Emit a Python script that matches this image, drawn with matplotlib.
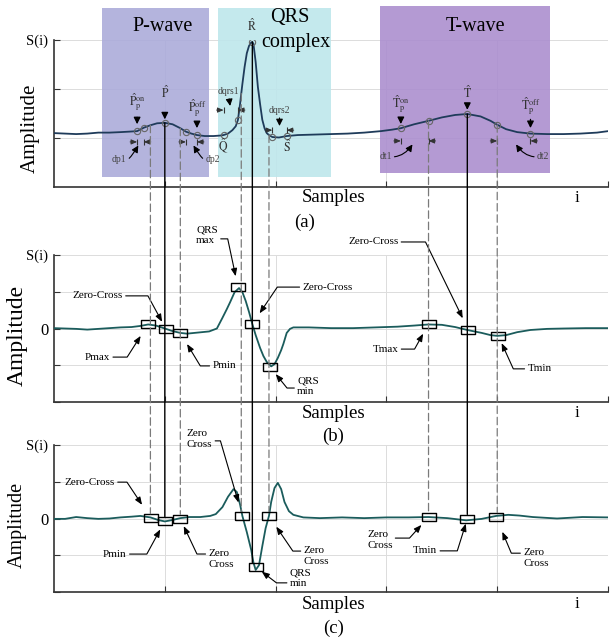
import numpy as np
import matplotlib
matplotlib.use("Agg")
import matplotlib.pyplot as plt
from matplotlib.patches import Rectangle, ConnectionPatch

plt.rcParams["font.family"] = ["Liberation Serif", "DejaVu Serif"]
plt.rcParams["mathtext.fontset"] = "stix"

# (a) one ECG beat, amplitude in grid units
ecg_i = [0, 10, 20, 30, 40, 50, 60, 68, 75, 81, 87, 93, 100, 107, 114, 119, 124, 129,
         136, 144, 150, 153, 157, 161, 164, 166, 168, 169, 170, 172, 174, 176, 178, 179,
         180, 182, 184, 186, 188, 190, 192, 194, 197, 203, 210, 220, 235, 250, 265, 280,
         295, 305, 313, 325, 338, 350, 362, 373, 385, 394, 400, 408, 418, 430, 445, 460,
         475, 490, 500]
ecg_v = [1.10, 1.09, 1.08, 1.09, 1.11, 1.11, 1.12, 1.13, 1.14, 1.21, 1.26, 1.30, 1.31,
         1.28, 1.20, 1.13, 1.09, 1.06, 1.04, 1.04, 1.05, 1.06, 1.09, 1.16, 1.24, 1.37,
         1.71, 1.91, 2.10, 2.45, 2.73, 2.88, 2.95, 2.96, 2.92, 2.55, 2.04, 1.69, 1.37,
         1.20, 1.10, 1.06, 1.02, 1.01, 1.04, 1.06, 1.07, 1.08, 1.09, 1.11, 1.14, 1.17,
         1.20, 1.28, 1.35, 1.42, 1.47, 1.49, 1.44, 1.35, 1.27, 1.18, 1.12, 1.09, 1.08,
         1.08, 1.09, 1.11, 1.14]
# fiducial circles on the beat
ecg_pts = [75, 81, 100, 119, 129, 153, 166, 179, 197, 210, 313, 338, 373, 400, 430]
# measured durations (start, end sample, level)
spans = [(75, 81, 0.92), (119, 129, 0.92), (153, 166, 1.57),
         (197, 210, 1.16), (313, 338, 0.94), (400, 430, 0.94)]
span_names = ["dp1", "dp2", "dqrs1", "dqrs2", "dt1", "dt2"]

# (b) first derivative
d1_i = [0, 10, 20, 30, 40, 50, 60, 70, 78, 85, 92, 100, 107, 114, 120, 130, 140, 147,
        152, 156, 159, 163, 167, 170, 173, 176, 179, 182, 186, 189, 192, 196, 199, 202,
        205, 207, 210, 213, 216, 230, 250, 270, 290, 310, 325, 338, 350, 362, 373, 386,
        394, 400, 408, 418, 430, 445, 460, 480, 500]
d1_v = [0.01, 0.0, -0.01, -0.03, -0.01, 0.01, 0.03, 0.04, 0.07, 0.11, 0.08, 0.0, -0.07,
        -0.12, -0.14, -0.11, -0.08, 0.0, 0.29, 0.53, 0.72, 0.99, 1.10, 0.99, 0.75, 0.45,
        0.12, -0.18, -0.53, -0.75, -0.91, -1.03, -0.97, -0.80, -0.59, -0.42, -0.12,
        -0.01, 0.03, 0.03, 0.01, 0.01, 0.03, 0.05, 0.08, 0.11, 0.10, 0.04, -0.04, -0.12,
        -0.18, -0.20, -0.18, -0.10, -0.04, -0.01, 0.0, 0.01, 0.01]
d1_mark_i = [85, 101, 114, 166, 179, 195, 338, 374, 401]
d1_mark_v = [0.12, -0.01, -0.12, 1.13, 0.12, -1.05, 0.12, -0.04, -0.20]
d1_names = ["Pmax", "Zero-Cross", "Pmin", "QRS\nmax", "Zero-Cross", "QRS\nmin",
            "Tmax", "Zero-Cross", "Tmin"]

# (c) second derivative
d2_i = [0, 10, 20, 30, 40, 50, 60, 70, 78, 87, 94, 100, 107, 114, 122, 132, 141, 146,
        152, 157, 162, 165, 168, 170, 174, 178, 180, 182, 185, 188, 191, 194, 196, 199,
        202, 205, 208, 212, 216, 225, 240, 260, 280, 300, 320, 338, 355, 372, 386, 399,
        410, 420, 432, 454, 477, 500]
d2_v = [-0.01, -0.01, 0.04, 0.01, -0.01, 0.0, 0.03, 0.05, 0.07, 0.03, -0.04, -0.08,
        -0.04, 0.01, 0.04, 0.04, 0.07, 0.12, 0.31, 0.59, 0.80, 0.72, 0.37, 0.07, -0.37,
        -0.86, -1.20, -1.40, -1.27, -0.75, -0.26, 0.07, 0.45, 0.83, 0.97, 0.80, 0.45,
        0.20, 0.10, 0.03, 0.01, 0.03, 0.01, 0.03, 0.03, 0.04, 0.01, -0.05, -0.01, 0.07,
        0.10, 0.08, 0.04, 0.0, 0.04, 0.03]
d2_mark_i = [87.5, 100, 114, 170, 182, 194, 338, 373, 399]
d2_mark_v = [0.01, -0.07, -0.01, 0.07, -1.32, 0.07, 0.04, -0.01, 0.04]
d2_names = ["Zero-Cross", "Pmin", "Zero\nCross", "Zero\nCross", "QRS\nmin",
            "Zero\nCross", "Zero\nCross", "Tmin", "Zero\nCross"]

# samples carried down from (a) to (c)
link_i = [87, 100, 114, 169, 179, 194, 338, 373, 400]
link_solid = [False, True, False] * 3

# shaded wave windows: name, first sample, last sample, colour
windows = [("P-wave", 43, 140, "#acacda"),
           ("QRS", 148, 250, "#bee7ec"),
           ("T-wave", 294, 448, "#ac8fcf")]

# callout layout per marker: text offset, leader corner offset (px), tip gap (px), anchor height
b_layout = [((-38, -33), (-21, -33), 14, 0.5),
            ((-43, 33), (-18, 33), 8, 0.5),
            ((32, -33), (20, -33), 13, 0.5),
            ((-20, 52), (-10, 47), 11, 0.3),
            ((50, 37), (25, 37), 13, 0.5),
            ((27, -19), (17, -21), 9, 0.4),
            ((-30, -25), (-14, -25), 11, 0.5),
            ((-70, 88), (-43, 88), 13, 0.5),
            ((29, -33), (15, -33), 8, 0.5)]
c_layout = [((-36, 36), (-24, 36), 16, 0.5),
            ((-38, -33), (-18, -33), 9.5, 0.5),
            ((28, -40), (17, -36), 8, 0.75),
            ((-30, 77), (-22, 75), 14, 0.4),
            ((34, -11), (21, -16), 7.6, 0.25),
            ((34.5, -40), (24.5, -36), 13, 0.75),
            ((-36, -23), (-19, -21), 10.6, 0.6),
            ((-30, -32), (-10, -32), 5, 0.5),
            ((27, -41), (16, -38), 16, 0.75)]

HEAD = "-|>,head_length=0.45,head_width=0.18"
box = [(-7, -4.5), (7, -4.5), (7, 4.5), (-7, 4.5), (-7, -4.5)]


def callout(ax, label, x, y, text_off, corner, gap, ry):
    left = text_off[0] < 0
    ang = np.degrees(np.arctan2(corner[1], corner[0]))
    ax.annotate(label, xy=(x, y), xytext=text_off, textcoords="offset pixels",
                ha="right" if left else "left", va="center", multialignment="left",
                fontsize=8, zorder=6,
                arrowprops=dict(arrowstyle=HEAD, mutation_scale=10, lw=0.8, color="k",
                                connectionstyle=f"angle,angleA=0,angleB={ang:.1f},rad=0",
                                relpos=(1 if left else 0, ry),
                                shrinkA=0, shrinkB=gap * 0.72))


def style(ax, yt, ylabels):
    ax.set_xlim(0, 500)
    ax.set_xticks(range(100, 501, 100))
    ax.set_xticklabels([])
    ax.set_yticks(yt)
    ax.set_yticklabels(ylabels)
    ax.tick_params(direction="in", length=4, width=0.8, color="#333333",
                   labelsize=10.5, pad=4)
    ax.grid(True, color="#dcdcdc", lw=0.7)
    for s in ("top", "right"):
        ax.spines[s].set_visible(False)
    for s in ("left", "bottom"):
        ax.spines[s].set_color("#333333")
        ax.spines[s].set_linewidth(1.2)


def axis_text(ax, amp_dx, amp_y, amp_size, samp_dy, tag_x, tag_dy, tag):
    ax.annotate("Amplitude", xy=(0, amp_y), xycoords="axes fraction", xytext=(amp_dx, 0),
                textcoords="offset pixels", rotation=90, ha="center", va="center",
                fontsize=amp_size)
    ax.annotate("Samples", xy=(0.504, 0), xycoords="axes fraction", xytext=(0, -samp_dy),
                textcoords="offset pixels", ha="center", va="center", fontsize=13.5)
    ax.annotate("i", xy=(0.944, 0), xycoords="axes fraction", xytext=(0, -samp_dy),
                textcoords="offset pixels", ha="center", va="center", fontsize=12)
    ax.annotate(tag, xy=(tag_x, 0), xycoords="axes fraction", xytext=(0, -tag_dy),
                textcoords="offset pixels", ha="center", va="center", fontsize=13.5)


fig = plt.figure(figsize=(6.13, 6.38), dpi=100)
ax1 = fig.add_axes([0.0881, 0.7069, 0.9038, 0.2304])
ax2 = fig.add_axes([0.0881, 0.3699, 0.9038, 0.2304])
ax3 = fig.add_axes([0.0881, 0.0721, 0.9038, 0.2304])

# ---------------- (a) ECG
ax1.set_ylim(0, 3)
style(ax1, [1, 2, 3], ["", "", "S(i)"])
for name, s0, s1, col in windows:
    y0 = 0.29 if name == "T-wave" else 0.21
    y1 = 3.69 if name == "T-wave" else 3.65
    ax1.add_patch(Rectangle((s0, y0), s1 - s0, y1 - y0, fc=col, ec="none", alpha=0.9,
                            zorder=1.7, clip_on=False))
ax1.text(98.4, 3.27, "P-wave", ha="center", va="center", fontsize=14.5)
ax1.text(213, 3.45, "QRS", ha="center", va="center", fontsize=14.5)
ax1.text(218.6, 2.94, "complex", ha="center", va="center", fontsize=14.5)
ax1.text(380, 3.27, "T-wave", ha="center", va="center", fontsize=14.5)

ax1.plot(ecg_i, ecg_v, color="#1f3b5a", lw=1.3, zorder=3)
pts_v = [ecg_v[ecg_i.index(s)] for s in ecg_pts]
ax1.plot(ecg_pts, pts_v, "o", ms=4.5, mfc="none", mec="#666666", mew=0.8, zorder=4)


def val(s):
    return ecg_v[ecg_i.index(s)]


pointers = [(r"$\hat{\mathrm{P}}_\mathrm{p}^\mathrm{on}$", 75, 18, 1, 5),
            (r"$\hat{\mathrm{P}}$", 100, 22, 7, 2.5),
            (r"$\hat{\mathrm{P}}_\mathrm{p}^\mathrm{off}$", 129, 16, 0, 5),
            (r"$\hat{\mathrm{T}}_\mathrm{p}^\mathrm{on}$", 313, 13, 0, 3),
            (r"$\hat{\mathrm{T}}$", 373, 13, 0, 3),
            (r"$\hat{\mathrm{T}}_\mathrm{p}^\mathrm{off}$", 430, 17, 0, 4)]
for label, s, dy, ga, gb in pointers:
    ax1.annotate(label, xy=(s, val(s)), xytext=(0, dy), textcoords="offset pixels",
                 ha="center", va="bottom", fontsize=8.5, color="#333333", zorder=6,
                 arrowprops=dict(arrowstyle="-|>,head_length=0.5,head_width=0.25",
                                 mutation_scale=8, color="k", lw=0.9, relpos=(0.5, 0),
                                 shrinkA=ga, shrinkB=gb))
for label, s, dy in [(r"$\hat{\mathrm{R}}$", 179, 16), (r"$\hat{\mathrm{Q}}$", 153, -11),
                     (r"$\hat{\mathrm{S}}$", 210, -11)]:
    ax1.annotate(label, xy=(s, val(s)), xytext=(0, dy), textcoords="offset pixels",
                 ha="center", va="center", fontsize=8.5, color="#333333", zorder=6)

# duration markers  ->|  |<-
for s0, s1, y in spans:
    for s, side in ((s0, -1), (s1, 1)):
        ax1.annotate("", xy=(s, y), xytext=(side * 7, 0), textcoords="offset pixels",
                     arrowprops=dict(arrowstyle="-|>,head_length=0.35,head_width=0.15",
                                     mutation_scale=10, lw=0.7, color="#333333",
                                     shrinkA=0, shrinkB=0), zorder=6)
        ax1.plot(s, y, marker="|", ms=4, mew=0.8, color="#333333", zorder=6)

span_layout = [((-14, -18), "right", "angle3,angleA=0,angleB=60", (1, 0.5), 3),
               ((14, -18), "left", "angle3,angleA=0,angleB=120", (0, 0.5), 3),
               ((-2, 14), "center", "arc3", (0.5, 0), 3),
               ((0, 15), "center", "arc3", (0.5, 0), 3),
               ((-23, -16), "right", "angle3,angleA=0,angleB=60", (1, 0.5), 3),
               ((23, -16), "left", "angle3,angleA=0,angleB=120", (0, 0.5), 3)]
for (s0, s1, y), name, (off, ha, cs, rp, sb) in zip(spans, span_names, span_layout):
    ax1.annotate(name, xy=((s0 + s1) / 2, y), xytext=off, textcoords="offset pixels",
                 ha=ha, va="bottom" if ha == "center" else "center", fontsize=7,
                 color="#444444", zorder=6,
                 arrowprops=dict(arrowstyle="-|>,head_length=0.5,head_width=0.25",
                                 mutation_scale=8, color="k", lw=0.8, connectionstyle=cs,
                                 relpos=rp, shrinkA=0, shrinkB=sb))
axis_text(ax1, -24, 0.40, 15, 11, 0.453, 35, "(a)")

# ---------------- (b) first derivative
ax2.set_ylim(-2, 2)
style(ax2, [-2, -1, 0, 1, 2], ["", "", "0", "", "S(i)"])
ax2.get_yticklabels()[2].set_fontsize(12)
ax2.plot(d1_i, d1_v, color="#1b5c5c", lw=1.3, zorder=3)
ax2.plot(d1_mark_i, d1_mark_v, ls="none", marker=box, ms=10, mfc="none", mec="k",
         mew=1.0, zorder=4)
for x, y, name, (off, corner, gap, ry) in zip(d1_mark_i, d1_mark_v, d1_names, b_layout):
    callout(ax2, name, x, y, off, corner, gap, ry)
axis_text(ax2, -37, 0.456, 17, 11, 0.504, 34, "(b)")

# ---------------- (c) second derivative
ax3.set_ylim(-2, 2)
style(ax3, [-2, -1, 0, 1, 2], ["", "", "0", "", "S(i)"])
ax3.get_yticklabels()[2].set_fontsize(12)
ax3.plot(d2_i, d2_v, color="#1b5c5c", lw=1.3, zorder=3)
ax3.plot(d2_mark_i, d2_mark_v, ls="none", marker=box, ms=10, mfc="none", mec="k",
         mew=1.0, zorder=4)
for x, y, name, (off, corner, gap, ry) in zip(d2_mark_i, d2_mark_v, d2_names, c_layout):
    callout(ax3, name, x, y, off, corner, gap, ry)
axis_text(ax3, -37, 0.456, 14.5, 12, 0.504, 36, "(c)")

# guide lines from the beat down to the second-derivative markers
for x, solid, yb in zip(link_i, link_solid, d2_mark_v):
    con = ConnectionPatch(xyA=(x, val(x)), coordsA="data", axesA=ax1,
                          xyB=(x, yb), coordsB="data", axesB=ax3,
                          color="k" if solid else "#7a7a7a",
                          lw=1.0 if solid else 0.9,
                          linestyle="-" if solid else (0, (6, 3)),
                          shrinkA=0, shrinkB=3.2, zorder=5)
    fig.add_artist(con)

fig.savefig("out.png", dpi=100)
